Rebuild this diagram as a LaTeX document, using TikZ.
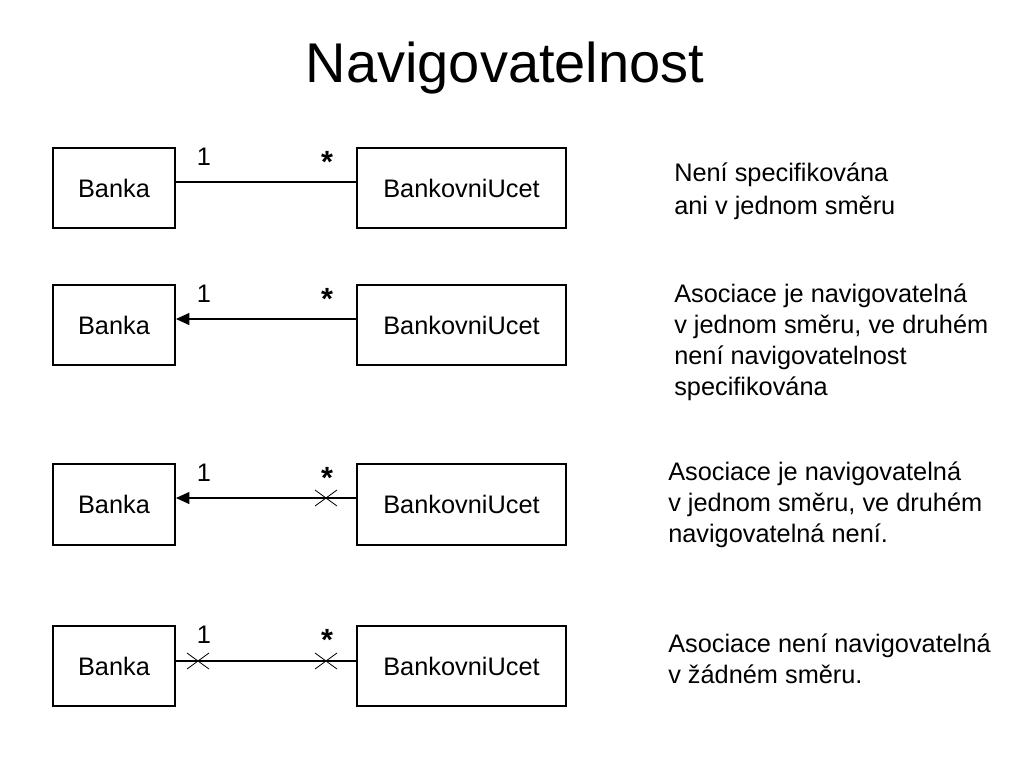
\documentclass[tikz,border=0pt]{standalone}
\usepackage{fontspec}
\setmainfont{Liberation Sans}
\usetikzlibrary{arrows.meta}
\begin{document}
\begin{tikzpicture}[x=0.75pt,y=-0.75pt,
  cls/.style={draw,line width=1.5pt,inner sep=0pt,font=\fontsize{19}{23}\selectfont},
  mult/.style={inner sep=0pt,font=\fontsize{19}{23}\selectfont},
  star/.style={inner sep=0pt,font=\bfseries\fontsize{23}{23}\selectfont},
  desc/.style={inner sep=0pt,anchor=base west,align=left,font=\fontsize{19}{23.2}\selectfont},
  assoc/.style={line width=0.8pt},
  navarrow/.style={-{Triangle[length=10pt,width=9pt]}},
  xmark/.style={line width=0.6pt}]
\useasboundingbox (0,0) rectangle (1024,768);
\node[inner sep=0pt,font=\fontsize{42}{48}\selectfont] (title) at (505,68) {Navigovatelnost};
% classes
\foreach \r/\yt/\yb in {1/148/228,2/285/365,3/464/545,4/626/706}{
  \node[cls,minimum width=122*0.75pt,minimum height=(\yb-\yt)*0.75pt] (b\r) at (114,{(\yt+\yb)/2}) {Banka};
  \node[cls,minimum width=209*0.75pt,minimum height=(\yb-\yt)*0.75pt] (u\r) at (461.5,{(\yt+\yb)/2}) {BankovniUcet};
}
% multiplicities
\node[mult] (o1) at (204,157) {1};
\node[star] (s1) at (327,162) {*};
\node[mult] (o2) at (204,294) {1};
\node[star] (s2) at (327,299) {*};
\node[mult] (o3) at (204,473) {1};
\node[star] (s3) at (327,478) {*};
\node[mult] (o4) at (204,635) {1};
\node[star] (s4) at (327,640) {*};
% connectors
\coordinate (l1b) at (b1.east |- 0,182); \coordinate (l1u) at (u1.west |- 0,182);
\coordinate (l2b) at (b2.east |- 0,319); \coordinate (l2u) at (u2.west |- 0,319);
\coordinate (l3b) at (b3.east |- 0,498); \coordinate (l3u) at (u3.west |- 0,498);
\coordinate (l4b) at (b4.east |- 0,661); \coordinate (l4u) at (u4.west |- 0,661);
\draw[assoc] (l1u) -- (l1b);
\draw[assoc,navarrow] (l2u) -- (l2b);
\draw[assoc,navarrow] (l3u) -- (l3b);
\draw[assoc] (l4u) -- (l4b);
% crosses
\coordinate (x3) at (326,498);
\coordinate (x4a) at (198,661);
\coordinate (x4b) at (326,661);
\foreach \c in {x3,x4a,x4b}{
  \draw[xmark] ([shift={(-11,-8)}]\c) -- ([shift={(11,8)}]\c);
  \draw[xmark] ([shift={(-11,8)}]\c) -- ([shift={(11,-8)}]\c);
}
% descriptions (anchor = baseline of last line)
\node[desc] (d1) at (674,214) {Není specifikována\\[1pt]ani v jednom směru};
\node[desc] (d2) at (674,395) {Asociace je navigovatelná\\v jednom směru, ve druhém\\není navigovatelnost\\specifikována};
\node[desc] (d3) at (668,542) {Asociace je navigovatelná\\v jednom směru, ve druhém\\navigovatelná není.};
\node[desc] (d4) at (668,683) {Asociace není navigovatelná\\v žádném směru.};
\end{tikzpicture}
\end{document}
